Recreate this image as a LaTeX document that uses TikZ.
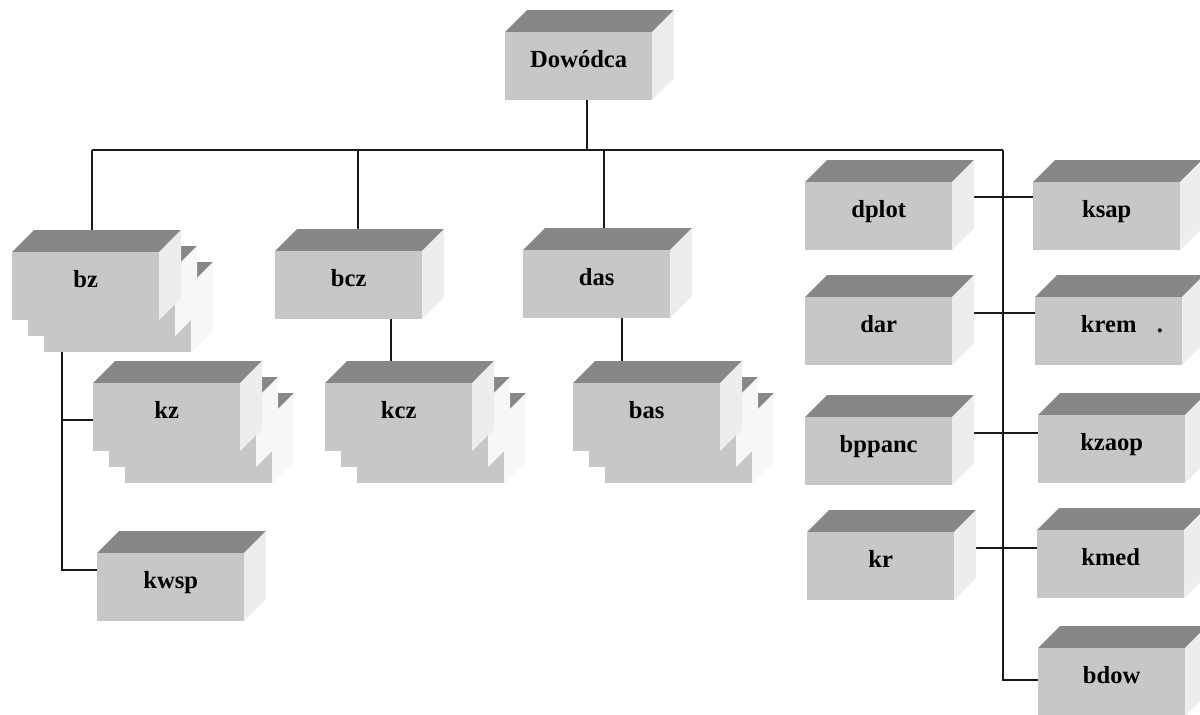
\documentclass[tikz,border=0pt]{standalone}
\usepackage{fontspec}
\setmainfont{Liberation Serif}
\usetikzlibrary{calc}
\pgfdeclarelayer{background}
\pgfsetlayers{background,main}
\definecolor{frontc}{gray}{0.78}
\definecolor{topc}{gray}{0.53}
\definecolor{sidec}{gray}{0.93}
\definecolor{copyside}{gray}{0.97}
\tikzset{
  frontface/.style={draw=none,fill=frontc,minimum width=147pt,minimum height=68pt,inner sep=0pt,anchor=north west},
  lbl/.style={anchor=base,inner sep=0pt,font=\fontsize{24.6pt}{30pt}\selectfont\bfseries},
  conn/.style={line width=1.7pt,black!90},
}
% faces of one box whose front face has its top-left corner at (#2,#3), side colour #1
\newcommand{\faces}[3]{%
  \fill[topc] ({#2},{-(#3)}) -- ++(22,22) -- ++(147,0) -- ++(-22,-22) -- cycle;
  \fill[#1] ({#2+147},{-(#3)}) -- ++(22,22) -- ++(0,-68) -- ++(-22,-22) -- cycle;
}
\newcommand{\copybox}[2]{%
  \faces{copyside}{#1}{#2}
  \fill[frontc] ({#1},{-(#2)}) rectangle ++(147,-68);
}
\newcommand{\mybox}[4]{% name, x, y, text
  \faces{sidec}{#2}{#3}
  \node[frontface] (#1) at (#2,-#3) {};
  \node[lbl] (#1t) at ([yshift=-35pt]#1.north) {#4};
}
\newcommand{\mystack}[4]{%
  \copybox{#2+32}{#3+32}
  \copybox{#2+16}{#3+16}
  \mybox{#1}{#2}{#3}{#4}
}
\begin{document}
\begin{tikzpicture}[x=1pt,y=1pt]
\useasboundingbox (0,0) rectangle (1200,-715);
\clip (0,0) rectangle (1200,-715);

\mybox{dow}{505}{32}{Dowódca}
\mystack{bz}{12}{252}{bz}
\mybox{bcz}{275}{251}{bcz}
\mybox{das}{523}{250}{das}
\mystack{kz}{93}{383}{kz}
\mystack{kcz}{325}{383}{kcz}
\mystack{bas}{573}{383}{bas}
\mybox{kwsp}{97}{553}{kwsp}

\mybox{dplot}{805}{182}{dplot}
\mybox{ksap}{1033}{182}{ksap}
\mybox{dar}{805}{297}{dar}
\mybox{krem}{1035}{297}{krem}
\mybox{bppanc}{805}{417}{bppanc}
\mybox{kzaop}{1038}{415}{kzaop}
\mybox{kr}{807}{532}{kr}
\mybox{kmed}{1037}{530}{kmed}
\mybox{bdow}{1038}{648}{bdow}
\node[lbl] (kremdot) at (1160,-332) {.};

\begin{pgfonlayer}{background}
  \coordinate (busL) at (92,-150);
  \coordinate (busR) at (1003,-150);
  \coordinate (b2) at (358,-150);
  \coordinate (b3) at (604,-150);
  \coordinate (dd) at ([xshift=8.5pt]dow.south);
  \draw[conn] (dd) -- (dd |- busL);
  \draw[conn] (busL) -- (busR);
  \draw[conn] (busL) -- (busL |- bz.north);
  \draw[conn] (b2) -- (b2 |- bcz.north);
  \draw[conn] (b3) -- (b3 |- das.north);
  % bz branch
  \coordinate (bzd) at ([xshift=50pt]bz.south west);
  \coordinate (kzj) at ([yshift=-37pt]kz.north west);
  \draw[conn] (bzd) |- ([yshift=-17pt]kwsp.north west);
  \draw[conn] (bzd |- kzj) -- (kzj);
  % bcz - kcz, das - bas
  \coordinate (c1) at ([xshift=42pt]bcz.south);
  \draw[conn] (c1) -- (c1 |- kcz.north);
  \coordinate (c2) at ([xshift=25pt]das.south);
  \draw[conn] (c2) -- (c2 |- bas.north);
  % right column
  \draw[conn] (busR) |- ([yshift=-32pt]bdow.north west);
  \coordinate (p1) at ([yshift=-15pt]dplot.north east);
  \draw[conn] (p1) -- (p1 -| ksap.west);
  \coordinate (p2) at ([yshift=-16pt]dar.north east);
  \draw[conn] (p2) -- (p2 -| krem.west);
  \coordinate (p3) at ([yshift=-16pt]bppanc.north east);
  \draw[conn] (p3) -- (p3 -| kzaop.west);
  \coordinate (p4) at ([yshift=-16pt]kr.north east);
  \draw[conn] (p4) -- (p4 -| kmed.west);
\end{pgfonlayer}
\end{tikzpicture}
\end{document}
